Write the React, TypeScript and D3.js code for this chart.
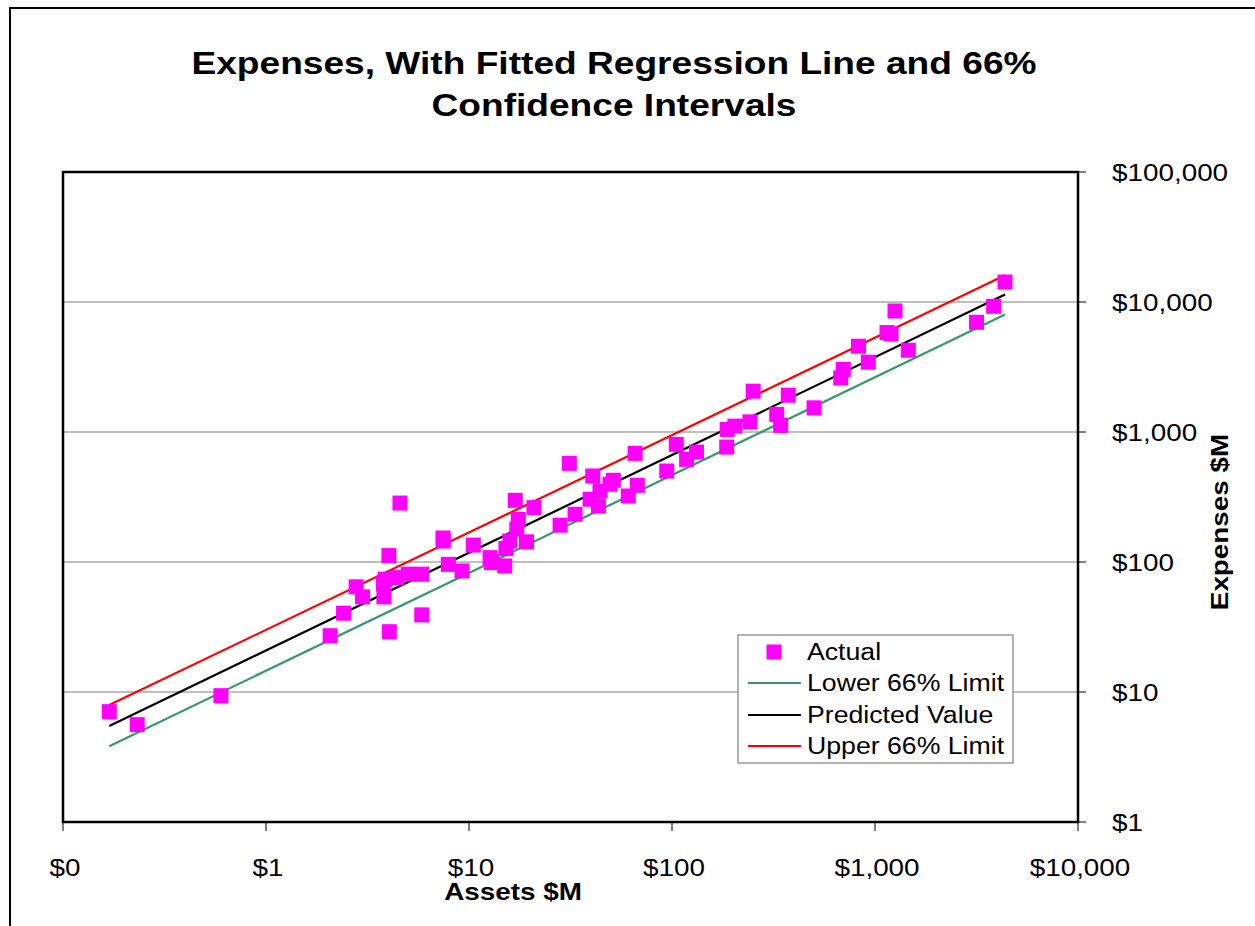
import React from "react";
import * as d3 from "d3";

const assets = [0.169, 0.232, 0.60, 2.07, 2.41, 2.78, 2.99, 3.79, 3.81, 4.03, 4.05, 4.57, 3.86, 4.40, 5.02, 5.85, 5.85, 7.45, 7.47, 7.91, 9.24, 10.5, 12.7, 12.9, 15.0, 15.2, 15.9, 16.9, 17.5, 17.2, 19.2, 20.9, 28.1, 31.2, 33.3, 40.7, 39.5, 43.4, 44.2, 49.5, 51.4, 60.9, 67.5, 65.8, 94.2, 105, 118, 132, 186, 187, 204, 242, 251, 328, 343, 374, 501, 678, 698, 829, 927, 1146, 1199, 1255, 1459, 3162, 3843, 4369];
const expenses = [7.06, 5.61, 9.37, 27.1, 40.4, 64.4, 53.9, 67.9, 53.9, 112, 29.1, 284, 73.8, 75.9, 80.6, 80.6, 39.2, 153, 145, 95.9, 85.4, 135, 108, 98.9, 93.3, 127, 145, 298, 213, 179, 143, 262, 192, 574, 233, 459, 304, 270, 352, 396, 425, 322, 389, 685, 501, 803, 616, 701, 766, 1047, 1110, 1197, 2061, 1365, 1124, 1920, 1535, 2608, 3027, 4567, 3443, 5821, 5680, 8531, 4256, 6983, 9268, 14251];

// line series endpoints (x at first/last asset value)
const lineAssets = [0.169, 4369];
const lowerLimit = [3.82, 8000];
const predicted = [5.48, 11400];
const upperLimit = [7.94, 16030];

const xTicks = [0.1, 1, 10, 100, 1000, 10000];
const xTickLabels = ["$0", "$1", "$10", "$100", "$1,000", "$10,000"];
const yTicks = [1, 10, 100, 1000, 10000, 100000];
const yTickLabels = ["$1", "$10", "$100", "$1,000", "$10,000", "$100,000"];

const titleLines = ["Expenses, With Fitted Regression Line and 66%", "Confidence Intervals"];
const legendItems = [
  { label: "Actual", kind: "marker", color: "#FF00FF" },
  { label: "Lower 66% Limit", kind: "line", color: "#339966" },
  { label: "Predicted Value", kind: "line", color: "#000000" },
  { label: "Upper 66% Limit", kind: "line", color: "#FF0000" },
];

const FONT = "'Liberation Sans', Arial, sans-serif";
const SX = 1.16;

function T(props: {
  x: number; y: number; size: number; anchor?: string; bold?: boolean; rotate?: number; children: React.ReactNode;
}) {
  const { x, y, size, anchor = "start", bold = false, rotate = 0, children } = props;
  return (
    <text
      transform={`translate(${x},${y}) rotate(${rotate}) scale(${SX},1)`}
      fontFamily={FONT}
      fontSize={size}
      fontWeight={bold ? "bold" : "normal"}
      textAnchor={anchor}
      fill="#000"
    >
      {children}
    </text>
  );
}

export default function App() {
  const left = 63, right = 1078, top = 172, bottom = 822;
  const x = d3.scaleLog().domain([0.1, 10000]).range([left, right]);
  const y = d3.scaleLog().domain([1, 100000]).range([bottom, top]);
  const ms = 15;

  const line = d3.line<[number, number]>().x((d) => x(d[0])).y((d) => y(d[1]));
  const series = [
    { vals: lowerLimit, color: "#339966" },
    { vals: predicted, color: "#000000" },
    { vals: upperLimit, color: "#FF0000" },
  ];

  const lg = { x: 738, y: 635, w: 275, h: 128 };
  const rowY = [652, 683, 715, 746];

  return (
    <svg width={1255} height={926} style={{ position: "absolute", left: 0, top: 0, display: "block", background: "#fff" }}>
      <rect x={0} y={0} width={1255} height={926} fill="#fff" />
      <rect x={10} y={8} width={1400} height={1100} fill="#fff" stroke="#000" strokeWidth={2} />

      {titleLines.map((t, i) => (
        <T key={i} x={614} y={74 + i * 42} size={32} anchor="middle" bold>{t}</T>
      ))}

      <rect x={left} y={top} width={right - left} height={bottom - top} fill="#fff" />
      {yTicks.slice(1, -1).map((v) => (
        <line key={v} x1={left} x2={right} y1={y(v)} y2={y(v)} stroke="#808080" strokeWidth={1.2} />
      ))}

      {series.map((s, i) => (
        <path
          key={i}
          d={line(lineAssets.map((a, j) => [a, s.vals[j]] as [number, number])) || ""}
          fill="none"
          stroke={s.color}
          strokeWidth={2.2}
        />
      ))}

      {assets.map((a, i) => (
        <rect key={i} x={x(a) - ms / 2} y={y(expenses[i]) - ms / 2} width={ms} height={ms} fill="#FF00FF" />
      ))}

      <rect x={left} y={top} width={right - left} height={bottom - top} fill="none" stroke="#000" strokeWidth={2.5} />

      {xTicks.map((v, i) => (
        <g key={v}>
          <line x1={x(v)} x2={x(v)} y1={bottom} y2={bottom + 9} stroke="#000" strokeWidth={1} />
          <T x={x(v) + 2} y={876} size={24} anchor="middle">{xTickLabels[i]}</T>
        </g>
      ))}
      {yTicks.map((v, i) => (
        <g key={v}>
          <line x1={right} x2={right + 8} y1={y(v)} y2={y(v)} stroke="#000" strokeWidth={1} />
          <T x={1112} y={y(v) + 9} size={24}>{yTickLabels[i]}</T>
        </g>
      ))}

      <T x={513} y={900} size={24} anchor="middle" bold>Assets $M</T>
      <T x={1228} y={522} size={24} anchor="middle" bold rotate={-90}>Expenses $M</T>

      <rect x={lg.x} y={lg.y} width={lg.w} height={lg.h} fill="#fff" stroke="#808080" strokeWidth={1.2} />
      {legendItems.map((it, i) => (
        <g key={it.label}>
          {it.kind === "marker" ? (
            <rect x={774 - ms / 2} y={rowY[i] - ms / 2} width={ms} height={ms} fill={it.color} />
          ) : (
            <line x1={748} x2={801} y1={rowY[i]} y2={rowY[i]} stroke={it.color} strokeWidth={2.2} />
          )}
          <T x={807} y={rowY[i] + 8} size={23}>{it.label}</T>
        </g>
      ))}
    </svg>
  );
}
